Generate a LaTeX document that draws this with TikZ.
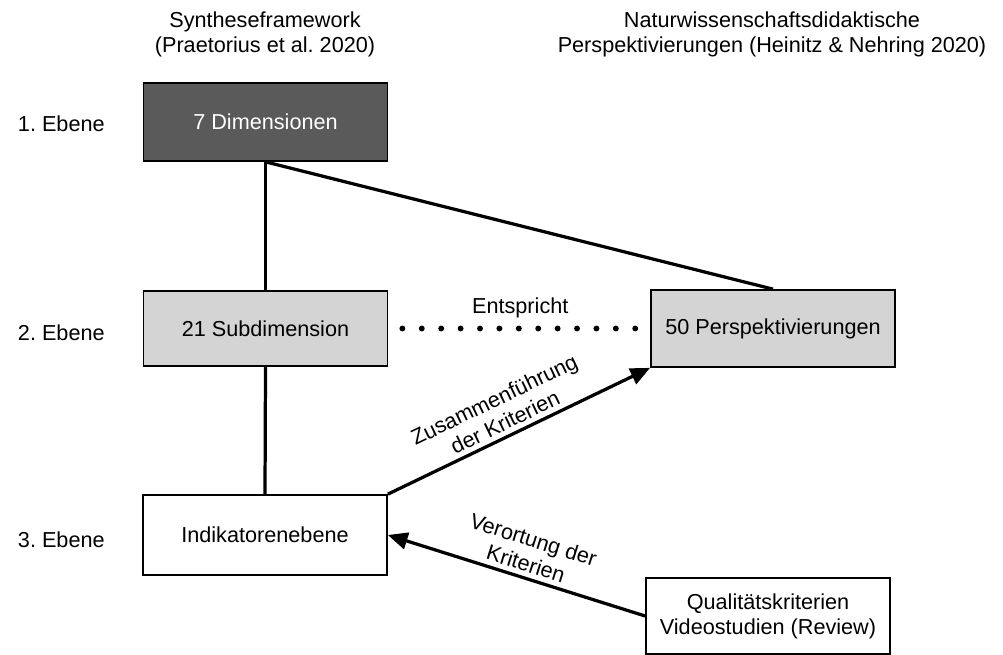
\documentclass[tikz,border=0pt]{standalone}
\usepackage{fontspec}
\setmainfont{Liberation Sans}
\usetikzlibrary{arrows.meta}
\definecolor{dimgray}{RGB}{90,90,90}
\definecolor{subgray}{RGB}{212,212,212}
\frenchspacing

\begin{document}
\begin{tikzpicture}[x=0.025cm,y=-0.025cm,font=\fontsize{15.4}{17.8}\selectfont,
		kasten/.style={draw,line width=1.2pt,minimum width=6.1cm,minimum height=1.95cm,align=center,inner sep=0pt},
		linie/.style={line width=2.3pt},
		pfeil/.style={line width=2.3pt,-{Triangle[length=14pt,width=12pt]}},
		punkte/.style={line width=4.2pt,line cap=round,dash pattern=on 0pt off 13.8pt}]
		\useasboundingbox (0,0) rectangle (1003,655);
		
		\node[align=center] (kopfl) at (265,34) {Syntheseframework\\(Praetorius et al. 2020)};
		\node[align=center] (kopfr) at (772,34) {Naturwissenschaftsdidaktische\\Perspektivierungen (Heinitz \& Nehring 2020)};
		
		\node[kasten,fill=dimgray,text=white] (dim) at (265.5,122) {7 Dimensionen};
		\node[kasten,fill=subgray,minimum height=1.875cm] (sub) at (265.5,328.5) {21 Subdimension};
		\node[kasten,fill=subgray,minimum height=1.925cm] (persp) at (773,328.5) {50 Perspektivierungen};
		\node[kasten,minimum height=2cm] (ind) at (265,535) {Indikatorenebene};
		\node[kasten,minimum height=1.9cm] (qual) at (768,616) {Qualitätskriterien\\Videostudien (Review)};
		
		\node[anchor=west] (e1) at (13,124) {1. Ebene};
		\node[anchor=west] (e2) at (13,333) {2. Ebene};
		\node[anchor=west] (e3) at (13,540) {3. Ebene};
		
		\draw[linie] (dim.south) -- (sub.north);
		\draw[linie] (sub.south) -- (ind.north);
		\draw[linie] (dim.south) -- (persp.north);
		
		\draw[punkte] ([xshift=0.35cm]sub.east) -- node[above=2pt] (entspricht) {Entspricht} ([xshift=-0.3cm]persp.west);
		
		\draw[pfeil] (ind.north east) -- node[pos=0.47,above,sloped,align=center] (zusammen) {Zusammenführung\\der Kriterien} (persp.south west);
		\draw[linie,{Triangle[length=14pt,width=12pt]}-] (ind.east) -- node[pos=0.52,above,sloped,align=center] (verortung) {Verortung der\\Kriterien} (qual.west);
\end{tikzpicture}
\end{document}
